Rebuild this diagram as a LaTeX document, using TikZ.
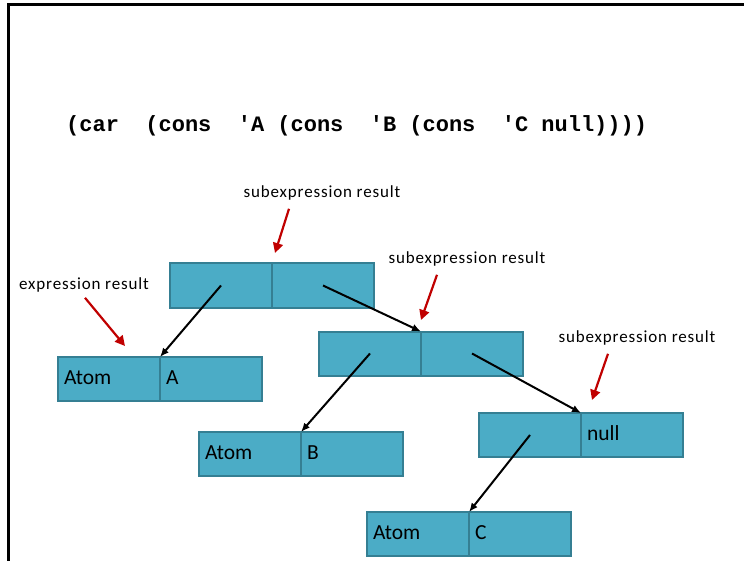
\documentclass[tikz,border=0pt]{standalone}
\usepackage{fontspec}
\setmainfont{Carlito}
\newfontfamily\codefont{Liberation Mono}
\newfontfamily\notefont[LetterSpace=5]{Carlito}
\usepackage{xcolor}
\usepackage{tikz}
\usetikzlibrary{
  arrows.meta,
  positioning,
  calc
}
\definecolor{cellfill}{HTML}{4BACC6}
\definecolor{celledge}{HTML}{357F93}
\definecolor{hintred}{HTML}{C00000}

\begin{document}
\begin{tikzpicture}[x=1pt, y=-1pt,
  cell/.style={draw=celledge, fill=cellfill, line width=2pt, outer sep=0pt,
    minimum height=44pt, text width=90pt, inner xsep=6pt, inner ysep=0pt,
    text height=15pt, text depth=4pt, align=left,
    font=\fontsize{21.5}{24}\selectfont},
  note/.style={font=\notefont\fontsize{17}{19}\selectfont},
  ptr/.style={-{Latex[length=9pt,width=7.5pt]}, line width=2pt},
  hint/.style={-{Triangle[length=10pt,width=10pt]}, line width=2.2pt, draw=hintred}]
  \useasboundingbox (0,0) rectangle (744,561);
  \draw[line width=3pt] (8,561) -- (8,5) -- (744,5);

  \node[anchor=base west, inner sep=0pt, font=\codefont\bfseries\fontsize{22}{24}\selectfont] (expr)
    at (66,132) {(car\ \ (cons\ \ \textquotesingle A (cons\ \ \textquotesingle B (cons\ \ \textquotesingle C null))))};

  % cons cells
  \node[cell] (c1car) at (221,285.5) {};
  \node[cell, right=0pt of c1car] (c1cdr) {};
  \node[cell] (c2car) at (370,353.5) {};
  \node[cell, right=0pt of c2car] (c2cdr) {};
  \node[cell] (c3car) at (530,435) {};
  \node[cell, right=0pt of c3car] (c3cdr) {null};

  % atoms
  \node[cell] (atomA) at (109,379) {Atom};
  \node[cell, right=0pt of atomA] (valA) {A};
  \node[cell] (atomB) at (250,454) {Atom};
  \node[cell, right=0pt of atomB] (valB) {B};
  \node[cell] (atomC) at (418,534) {Atom};
  \node[cell, right=0pt of atomC] (valC) {C};

  \draw[ptr] (c1car.center) -- (valA.north west);
  \draw[ptr] (c1cdr.center) -- (c2cdr.north west);
  \draw[ptr] (c2car.center) -- (valB.north west);
  \draw[ptr] (c2cdr.center) -- (c3cdr.north west);
  \draw[ptr] (c3car.center) -- (valC.north west);

  % result labels
  \node[note] (sub1) at (322,193) {subexpression result};
  \node[note] (sub2) at (467,259) {subexpression result};
  \node[note] (sub3) at (637,338) {subexpression result};
  \node[note] (res) at (84,285) {expression result};
  \coordinate (tip1) at (275,253);
  \coordinate (tip2) at (421,320);
  \coordinate (tip3) at (592,400);
  \coordinate (tip0) at (125,346);
  \draw[hint] ($(sub1.south)+(-33,5)$) -- (tip1);
  \draw[hint] ($(sub2.south)+(-30,5)$) -- (tip2);
  \draw[hint] ($(sub3.south)+(-29,5)$) -- (tip3);
  \draw[hint] ($(res.south)+(1,2)$) -- (tip0);
\end{tikzpicture}
\end{document}
